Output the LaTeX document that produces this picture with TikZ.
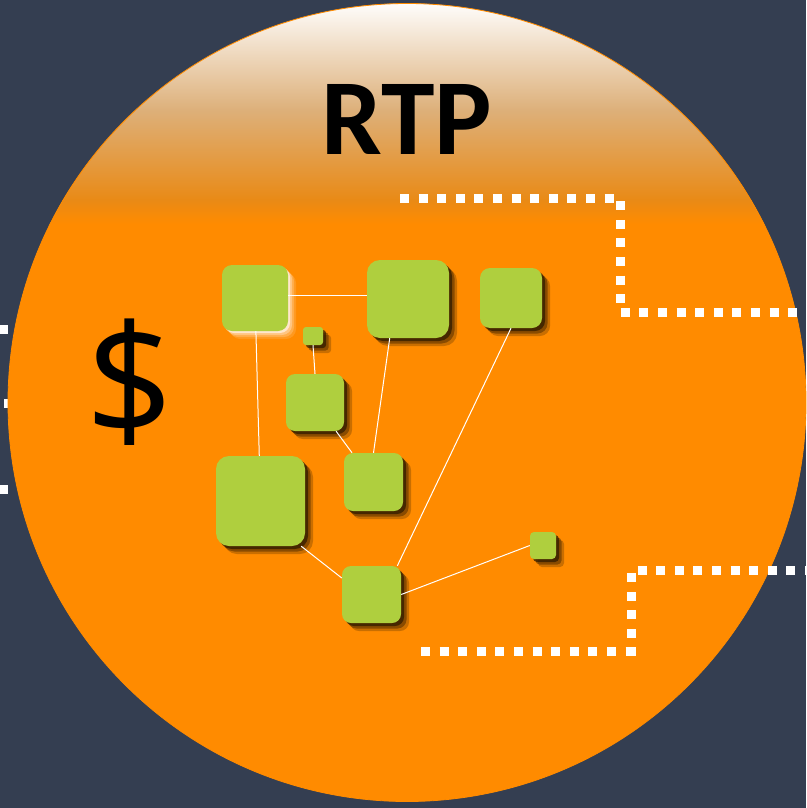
\documentclass[tikz,border=0pt]{standalone}
\usepackage{fontspec}
\newfontfamily\carlito{Carlito}
\newfontfamily\opensans{Open Sans}
\usepackage{tikz}
\usetikzlibrary{shadows}
\definecolor{fondo}{HTML}{343E51}
\definecolor{naranja}{HTML}{FF8B00}
\definecolor{arena}{HTML}{DDB07A}
\definecolor{tostado}{HTML}{E98A16}
\definecolor{verde}{HTML}{AFCF3E}
\definecolor{sombra}{HTML}{2A1800}

\begin{document}
\begin{tikzpicture}[x=1pt, y=-1pt,
  cuadro/.style={fill=verde, inner sep=0pt,
    general shadow={fill=sombra, opacity=.25, shadow xshift=8pt, shadow yshift=-8pt},
    general shadow={fill=sombra, opacity=.4, shadow xshift=5.5pt, shadow yshift=-5.5pt},
    general shadow={fill=sombra, opacity=.7, shadow xshift=3pt, shadow yshift=-3pt}},
  brillo/.style={fill=verde, inner sep=0pt,
    general shadow={fill=white, opacity=.12, shadow xshift=8pt, shadow yshift=-8pt},
    general shadow={fill=white, opacity=.2, shadow xshift=6pt, shadow yshift=-6pt},
    general shadow={fill=white, opacity=.3, shadow xshift=4pt, shadow yshift=-4pt},
    general shadow={fill=white, opacity=.6, shadow xshift=2pt, shadow yshift=-2pt}},
  enlace/.style={white, line width=1pt},
  punteado/.style={white, line width=9pt, dash pattern=on 9pt off 9.6pt}
]
  \fill[fondo] (0,0) rectangle (806,808);
  \useasboundingbox (0,0) rectangle (806,808);

  % puntos de la izquierda, bajo el circulo
  \draw[punteado] (-1,329) -- (40,329);
  \draw[punteado] (4,403.5) -- (40,403.5);
  \draw[punteado] (-1,489) -- (40,489);

  \begin{scope}
    \clip (407,402.5) circle (399);
    \fill[naranja] (0,0) rectangle (806,808);
    \shade[top color=white, bottom color=arena] (0,0) rectangle (806,110);
    \shade[top color=arena, bottom color=tostado] (0,109.5) rectangle (806,200);
    \shade[top color=tostado, bottom color=naranja] (0,199.5) rectangle (806,224);
  \end{scope}
  \draw[naranja, line width=0.8pt] (407,402.5) circle (399);

  \node[inner sep=0pt, font=\carlito\bfseries\fontsize{108}{108}\selectfont] (titulo) at (407,119) {RTP};
  \node[inner sep=0pt, font=\opensans\fontsize{155}{155}\selectfont] (dolar) at (130,382) {\$};

  \draw[punteado] (400,198) -- (620,198) -- (620,312) -- (806,312);
  \draw[punteado] (421,651) -- (631,651) -- (631,570) -- (806,570);

  \node[brillo, minimum width=66pt, minimum height=66pt, rounded corners=10pt] (a) at (255,298) {};
  \node[cuadro, minimum width=82pt, minimum height=78pt, rounded corners=13pt] (b) at (408,299) {};
  \node[cuadro, minimum width=62pt, minimum height=60pt, rounded corners=10pt] (c) at (511,298) {};
  \node[cuadro, minimum width=20pt, minimum height=18pt, rounded corners=3pt] (d) at (313,336) {};
  \node[cuadro, minimum width=58pt, minimum height=57pt, rounded corners=9pt] (e) at (315,402.5) {};
  \node[cuadro, minimum width=89pt, minimum height=90pt, rounded corners=13pt] (f) at (260.5,501) {};
  \node[cuadro, minimum width=59pt, minimum height=58pt, rounded corners=9pt] (g) at (373.5,482) {};
  \node[cuadro, minimum width=59pt, minimum height=57pt, rounded corners=9pt] (h) at (371.5,594.5) {};
  \node[cuadro, minimum width=26pt, minimum height=27pt, rounded corners=4pt] (i) at (543,545.5) {};

  \draw[enlace] (a.5) -- (a.5 -| b.west);
  \draw[enlace] (a) -- (f);
  \draw[enlace] (d.south) -- (e.north);
  \draw[enlace] (e) -- (g);
  \draw[enlace] (b.245) -- (g.north);
  \draw[enlace] (c.south) -- (h.48);
  \draw[enlace] (f.-48) -- (h.151);
  \draw[enlace] (h.east) -- (i.west);
\end{tikzpicture}
\end{document}
